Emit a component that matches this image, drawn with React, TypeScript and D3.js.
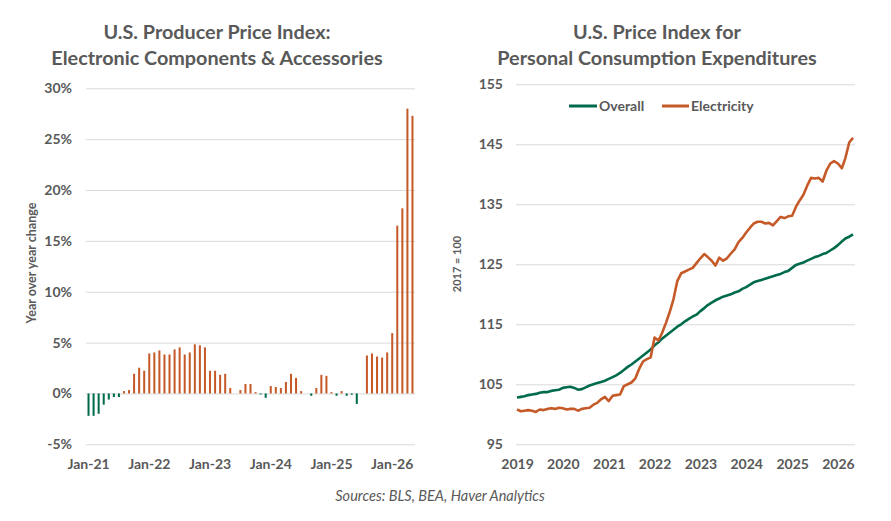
import * as d3 from "d3";
import { useRef, useEffect } from "react";

// left panel: PPI electronic components, y/y % change, monthly Jan-21 .. May-26
const ppiMonths = d3.timeMonth.range(new Date(2021, 0, 1), new Date(2026, 5, 1));
const ppiYoY = [
    -2.2, -2.2, -2.0, -1.1, -0.6, -0.35, -0.35, 0.23, 0.33, 1.93, 2.53, 2.23,
    3.93, 4.03, 4.23, 3.83, 3.83, 4.33, 4.53, 3.83, 4.03, 4.83, 4.73, 4.53,
    2.23, 2.23, 1.83, 1.93, 0.53, 0.0, 0.33, 0.93, 0.93, 0.13, -0.1, -0.43,
    0.73, 0.63, 0.53, 1.13, 1.93, 1.53, 0.23, 0.0, -0.23, 0.53, 1.83, 1.73,
    0.13, -0.23, 0.23, -0.23, -0.13, -1.03, 0.0, 3.73, 3.93, 3.63, 3.53, 4.03,
    5.93, 16.5, 18.2, 28.0, 27.3,
];
const ppiTicks = [-5, 0, 5, 10, 15, 20, 25, 30];

// right panel: PCE price index (2017 = 100), monthly Jan-19 .. May-26
const pceMonths = d3.timeMonth.range(new Date(2019, 0, 1), new Date(2026, 5, 1));
const pceOverall = [
    102.8, 102.9, 103.0, 103.2, 103.3, 103.4, 103.6, 103.7, 103.7, 103.9, 104.0, 104.1,
    104.4, 104.5, 104.6, 104.4, 104.1, 104.2, 104.5, 104.8, 105.0, 105.2, 105.4, 105.6,
    105.9, 106.2, 106.5, 106.9, 107.4, 107.9, 108.3, 108.8, 109.3, 109.8, 110.3, 110.8,
    111.5, 112.0, 112.6, 113.1, 113.6, 114.1, 114.6, 115.0, 115.5, 115.9, 116.3, 116.6,
    117.2, 117.7, 118.2, 118.6, 119.0, 119.3, 119.6, 119.8, 120.0, 120.3, 120.5, 120.9,
    121.2, 121.6, 122.0, 122.2, 122.4, 122.6, 122.8, 123.0, 123.2, 123.4, 123.7, 123.9,
    124.4, 124.9, 125.1, 125.3, 125.6, 125.9, 126.2, 126.4, 126.7, 126.9, 127.3, 127.7,
    128.2, 128.8, 129.3, 129.6, 130.0,
];
const pceElectricity = [
    100.8, 100.5, 100.6, 100.7, 100.6, 100.4, 100.8, 100.7, 100.9, 101.0, 100.9, 101.1,
    101.0, 100.8, 100.9, 100.9, 100.6, 100.9, 101.0, 101.1, 101.6, 101.9, 102.5, 102.9,
    102.2, 103.1, 103.2, 103.3, 104.7, 105.0, 105.3, 106.0, 107.6, 108.8, 109.2, 109.5,
    112.8, 112.3, 113.5, 115.2, 117.0, 119.2, 122.2, 123.5, 123.8, 124.1, 124.4, 125.2,
    126.0, 126.7, 126.2, 125.6, 124.8, 126.1, 125.6, 126.0, 126.8, 127.5, 128.7, 129.4,
    130.3, 131.1, 131.8, 132.1, 132.1, 131.8, 131.9, 131.5, 132.2, 132.9, 132.7, 133.0,
    133.1, 134.6, 135.6, 136.6, 138.1, 139.4, 139.3, 139.4, 138.8, 140.6, 141.8, 142.2,
    141.8, 141.0, 142.7, 145.3, 146.1,
];
const pceTicks = [95, 105, 115, 125, 135, 145, 155];
const pceSeries = [
    { name: "Overall", values: pceOverall },
    { name: "Electricity", values: pceElectricity },
];

const ORANGE = "#C55A28";
const GREEN = "#006B4C";
const GRID = "#d9d9d9";
const TEXT = "#595959";
const FONT = "Lato, 'Open Sans', sans-serif";

export default function App() {
    const ref = useRef<SVGGElement>(null);

    useEffect(() => {
        const root = d3.select(ref.current);
        root.selectAll("*").remove();

        // ---------- left: bars ----------
        const xL = d3.scaleBand<Date>()
            .domain(ppiMonths)
            .range([86, 415])
            .paddingInner(0.6)
            .paddingOuter(0.3);
        const yL = d3.scaleLinear().domain([-5, 30]).range([444.3, 88.3]);

        const left = root.append("g");
        const gy = left.append("g")
            .attr("transform", "translate(86,0)")
            .call(d3.axisLeft(yL).tickValues(ppiTicks).tickSize(-(415 - 86)).tickPadding(14)
                .tickFormat(d => `${d}%`));
        gy.select(".domain").remove();
        gy.selectAll("line").attr("stroke", GRID);

        const janL = ppiMonths.filter(d => d.getMonth() === 0);
        const gx = left.append("g")
            .attr("transform", "translate(0,450)")
            .call(d3.axisBottom(xL).tickValues(janL).tickSize(0).tickPadding(9)
                .tickFormat(d => d3.timeFormat("%b-%y")(d as Date)));
        gx.select(".domain").remove();

        left.selectAll(".bar")
            .data(ppiYoY)
            .join("rect")
            .attr("class", "bar")
            .attr("x", (d, i) => xL(ppiMonths[i])!)
            .attr("width", xL.bandwidth())
            .attr("y", d => yL(Math.max(0, d)))
            .attr("height", d => Math.abs(yL(d) - yL(0)))
            .attr("fill", d => (d < 0 ? GREEN : ORANGE));

        // ---------- right: lines ----------
        const xR = d3.scaleTime()
            .domain([pceMonths[0], pceMonths[pceMonths.length - 1]])
            .range([517, 853]);
        const yR = d3.scaleLinear().domain([95, 155]).range([444.3, 84.3]);

        const right = root.append("g");
        const ry = right.append("g")
            .attr("transform", "translate(516,0)")
            .call(d3.axisLeft(yR).tickValues(pceTicks).tickSize(-(855 - 516)).tickPadding(13));
        ry.select(".domain").remove();
        ry.selectAll("line").attr("stroke", GRID);

        const janR = pceMonths.filter(d => d.getMonth() === 0);
        const rx = right.append("g")
            .attr("transform", "translate(0,450)")
            .call(d3.axisBottom(xR).tickValues(janR).tickSize(0).tickPadding(9)
                .tickFormat(d => d3.timeFormat("%Y")(d as Date)));
        rx.select(".domain").remove();

        const line = d3.line<number>()
            .x((d, i) => xR(pceMonths[i]))
            .y(d => yR(d));

        right.selectAll(".series")
            .data(pceSeries)
            .join("path")
            .attr("class", "series")
            .attr("fill", "none")
            .attr("stroke", (d, i) => (i === 0 ? GREEN : ORANGE))
            .attr("stroke-width", 2.6)
            .attr("stroke-linejoin", "round")
            .attr("d", d => line(d.values));

        // shared tick text style
        root.selectAll(".tick text")
            .attr("fill", TEXT)
            .style("font-family", FONT)
            .style("font-size", "14px")
            .style("font-weight", "700");
    }, []);

    return (
        <svg width={891} height={521} style={{ position: "absolute", left: 0, top: 0, background: "#fff" }}
             fontFamily={FONT}>
            <g fill={TEXT} fontWeight={700} fontSize={19.8} textAnchor="middle">
                <text x={217} y={39}>U.S. Producer Price Index:</text>
                <text x={217} y={65}>Electronic Components &amp; Accessories</text>
                <text x={657} y={39}>U.S. Price Index for</text>
                <text x={657} y={65}>Personal Consumption Expenditures</text>
            </g>
            <text transform="translate(36,263) rotate(-90)" textAnchor="middle" fontSize={12.5}
                  fontWeight={700} fill={TEXT}>Year over year change</text>
            <text transform="translate(461,264) rotate(-90)" textAnchor="middle" fontSize={11}
                  fontWeight={700} fill={TEXT}>2017 = 100</text>
            <g fontSize={14} fontWeight={700} fill={TEXT}>
                <line x1={569} x2={597} y1={106} y2={106} stroke={GREEN} strokeWidth={3} />
                <text x={599} y={111}>Overall</text>
                <line x1={662} x2={689} y1={106} y2={106} stroke={ORANGE} strokeWidth={3} />
                <text x={691} y={111}>Electricity</text>
            </g>
            <text x={440} y={501} textAnchor="middle" fontSize={14.5} fontStyle="italic" fill={TEXT}>
                Sources: BLS, BEA, Haver Analytics
            </text>
            <g ref={ref}></g>
        </svg>
    );
}
